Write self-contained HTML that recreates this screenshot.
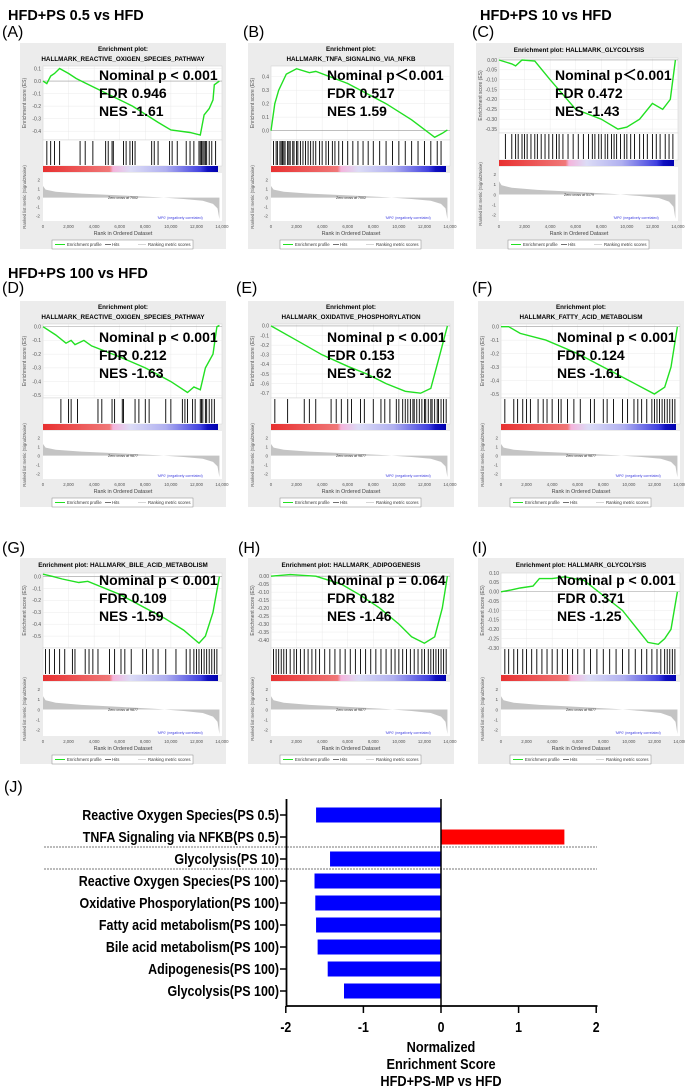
<!DOCTYPE html>
<html><head><meta charset="utf-8"><style>
html,body{margin:0;padding:0;background:#fff;}
svg{display:block;font-family:"Liberation Sans",Arial,sans-serif;}
</style></head><body>
<svg id="fig" width="685" height="1087" viewBox="0 0 685 1087" xmlns="http://www.w3.org/2000/svg">
<text x="8" y="20" font-size="14.5" font-weight="bold">HFD+PS 0.5 vs HFD</text>
<text x="480" y="20" font-size="14.5" font-weight="bold">HFD+PS 10 vs HFD</text>
<text x="8" y="278" font-size="14.5" font-weight="bold">HFD+PS 100 vs HFD</text>
<g id="panels"></g>
<g id="bars"></g>
</svg>
<script>
// ===== GSEA panel data =====
const panelLetters = ["A","B","C","D","E","F","G","H","I"];
const panelTitles = [
 ["Enrichment plot:","HALLMARK_REACTIVE_OXIGEN_SPECIES_PATHWAY"],
 ["Enrichment plot:","HALLMARK_TNFA_SIGNALING_VIA_NFKB"],
 ["Enrichment plot: HALLMARK_GLYCOLYSIS"],
 ["Enrichment plot:","HALLMARK_REACTIVE_OXIGEN_SPECIES_PATHWAY"],
 ["Enrichment plot:","HALLMARK_OXIDATIVE_PHOSPHORYLATION"],
 ["Enrichment plot:","HALLMARK_FATTY_ACID_METABOLISM"],
 ["Enrichment plot: HALLMARK_BILE_ACID_METABOLISM"],
 ["Enrichment plot: HALLMARK_ADIPOGENESIS"],
 ["Enrichment plot: HALLMARK_GLYCOLYSIS"]
];
const statP = ["Nominal p < 0.001","Nominal p\uFF1C0.001","Nominal p\uFF1C0.001","Nominal p < 0.001","Nominal p < 0.001","Nominal p < 0.001","Nominal p < 0.001","Nominal p = 0.064","Nominal p < 0.001"];
const statFDR = ["FDR 0.946","FDR 0.517","FDR 0.472","FDR 0.212","FDR 0.153","FDR 0.124","FDR 0.109","FDR 0.182","FDR 0.371"];
const statNES = ["NES -1.61","NES 1.59","NES -1.43","NES -1.63","NES -1.62","NES -1.61","NES -1.59","NES -1.46","NES -1.25"];
const posLabels = ["'PS0.5' (positively correlated)","'PS0.5' (positively correlated)","'PS10' (positively correlated)","'PS100' (positively correlated)","'PS100' (positively correlated)","'PS100' (positively correlated)","'PS100' (positively correlated)","'PS100' (positively correlated)","'PS100' (positively correlated)"];
const zeroCross = ["Zero cross at 7002","Zero cross at 7002","Zero cross at 5179","Zero cross at 9877","Zero cross at 9877","Zero cross at 9877","Zero cross at 9877","Zero cross at 9877","Zero cross at 9877"];
const esRanges = [[0.12,-0.47],[0.48,-0.07],[0.01,-0.37],[0.02,-0.52],[0.02,-0.75],[0.02,-0.53],[0.03,-0.6],[0.02,-0.45],[0.1,-0.3]];
const esTicks = [
 [0.1,0,-0.1,-0.2,-0.3,-0.4],[0.4,0.3,0.2,0.1,0],[0,-0.05,-0.1,-0.15,-0.2,-0.25,-0.3,-0.35],
 [0,-0.1,-0.2,-0.3,-0.4,-0.5],[0,-0.1,-0.2,-0.3,-0.4,-0.5,-0.6,-0.7],[0,-0.1,-0.2,-0.3,-0.4,-0.5],
 [0,-0.1,-0.2,-0.3,-0.4,-0.5],[0,-0.05,-0.1,-0.15,-0.2,-0.25,-0.3,-0.35,-0.4],[0.1,0.05,0,-0.05,-0.1,-0.15,-0.2,-0.25,-0.3]];
const esRanks = [
 [0,300,600,900,1300,2000,2600,3000,5000,7000,9000,10000,11500,12300,12600,13000,13300,13400,13800],
 [0,300,600,1200,2000,3000,3500,6000,9000,11000,12800,13400,13800],
 [0,1000,1300,1800,2800,4000,6000,8000,9300,10000,11000,12000,12800,13400,13800],
 [0,1000,1800,2200,2500,3200,3800,6000,8000,10000,11300,11800,12300,12700,13300,13600,13800],
 [0,2000,4000,6000,7500,9000,10500,11700,12500,13200,13800],
 [0,600,1500,3500,6000,9000,11000,12000,12800,13300,13800],
 [0,800,1500,2800,3500,6000,9500,11000,12200,12700,13300,13800],
 [0,1500,3500,5500,7000,8500,10000,11000,12000,12800,13400,13800],
 [0,800,1500,2500,3000,4000,5000,6500,8000,9500,11500,12300,12800,13300,13800]];
const esValues = [
 [0,-0.02,0.04,0.06,0.1,0.06,0.02,0,-0.1,-0.2,-0.33,-0.39,-0.41,-0.43,-0.27,-0.22,-0.15,-0.03,0],
 [0,0.2,0.3,0.42,0.46,0.43,0.44,0.35,0.2,0.08,-0.05,-0.02,0.005],
 [0,-0.02,-0.03,0,-0.005,-0.1,-0.25,-0.3,-0.35,-0.34,-0.3,-0.22,-0.25,-0.2,0],
 [0,-0.06,-0.12,-0.1,-0.13,-0.1,-0.14,-0.22,-0.3,-0.4,-0.48,-0.44,-0.46,-0.3,-0.2,0,0.01],
 [0,-0.15,-0.3,-0.42,-0.5,-0.6,-0.68,-0.7,-0.65,-0.3,0],
 [0,0,-0.05,-0.1,-0.2,-0.35,-0.45,-0.5,-0.45,-0.3,0],
 [0.02,0,-0.02,-0.05,-0.04,-0.15,-0.35,-0.45,-0.56,-0.5,-0.3,0],
 [0,0.01,0,-0.05,-0.12,-0.2,-0.3,-0.38,-0.42,-0.38,-0.2,0],
 [0,0.01,0.02,0.03,0.07,0.07,0.08,0.06,-0.02,-0.1,-0.27,-0.28,-0.25,-0.2,0]];
const hitRanks = [
 [300,600,900,1300,2900,3300,3900,4900,5100,5400,5500,6300,6500,6800,7000,7200,8500,8700,9000,9900,10100,10500,11200,11500,11800,12200,12300,12400,12500,12600,12700,12800,13000,13200,13500],
 [200,400,500,700,800,900,1000,1100,1300,1400,1500,1700,1800,2000,2100,2300,2500,2700,2900,3100,3300,3500,3800,4000,4300,4500,4800,5000,5300,5600,6000,6400,6800,7200,7600,8000,8500,9000,9500,10000,10500,11000,11500,12000,12500,13000,13300],
 [500,1000,1300,1500,1800,2000,2200,2500,2800,3000,3300,3600,3900,4200,4500,4700,5000,5400,5800,6200,6600,7000,7300,7500,7800,8000,8300,8500,8800,9000,9200,9500,9800,10000,10300,10600,11000,11300,11600,12000,12300,12600,13000,13300,13600],
 [1400,2000,2200,2700,4300,4600,5400,5600,6200,6300,7200,7500,8000,8300,9600,10000,10900,11100,11300,11700,11900,12300,12400,12500,12700,12800,13000,13200,13400],
 [300,1300,2600,3000,3500,4700,5100,5500,6000,6300,7000,7300,8000,8600,8900,9300,9800,10000,10300,10500,10700,10900,11100,11200,11400,11600,11800,12000,12100,12300,12500,12600,12800,13000,13100,13300,13500,13700],
 [300,1000,1300,1700,2000,2300,2900,3300,3600,4000,4500,4700,5200,5700,6200,7000,7300,8000,8300,8800,9500,9900,10400,10700,11000,11400,11800,12000,12200,12400,12600,12800,13000,13200,13400,13600],
 [200,500,900,1300,1700,2300,2500,3300,3600,3900,4300,5200,5600,6100,6400,6900,7800,8100,8600,9000,9600,10400,11200,11500,11800,12000,12200,12400,12600,12800,13000,13200,13400,13600],
 [200,400,600,800,1000,1200,1500,1800,2000,2300,2600,2900,3200,3500,3800,4200,4600,5000,5400,5800,6200,6600,7000,7400,7800,8200,8600,9000,9400,9700,10000,10300,10600,10900,11200,11500,11800,12000,12300,12500,12700,12900,13100,13300,13500,13700],
 [300,600,1000,1300,1700,2000,2400,2800,3200,3600,4000,4400,4800,5200,5600,6000,6500,7000,7500,8000,8500,9000,9500,10000,10500,11000,11400,11800,12200,12500,12800,13000,13200,13400,13600]];
const rankTicks = [0,2000,4000,6000,8000,10000,12000,14000];
const metricTicks = [2,1,0,-1,-2];
const metricRanks = [0,200,1000,3000,6000,9000,11000,12500,13300,13650,13800];
const metricVals = [1.3,0.9,0.65,0.45,0.25,0.05,-0.15,-0.35,-0.7,-1.2,-2.4];

const NS="http://www.w3.org/2000/svg";
function mk(tag,attrs,parent,txt){const e=document.createElementNS(NS,tag);for(const k in attrs)e.setAttribute(k,attrs[k]);if(txt!==undefined)e.textContent=txt;parent.appendChild(e);return e;}

const origins = [[20,43],[248,43],[476,43],[20,301],[248,301],[478,301],[20,558],[248,558],[478,558]];
const letterPos = [[2,37],[243,37],[472,37],[2,293],[236,293],[472,293],[2,553],[238,553],[472,553]];
const pg = document.getElementById('panels');

for(let i=0;i<9;i++){
 const [ox,oy]=origins[i];
 const g=mk('g',{transform:`translate(${ox},${oy})`},pg);
 
 
 const lt=mk('text',{x:letterPos[i][0]-ox,y:letterPos[i][1]-oy,'font-size':16},g,'('+panelLetters[i]+')');
 
 
 const bg=mk('rect',{x:0,y:0,width:206,height:206,fill:'#ececec'},g);
 
 
 const two=panelTitles[i].length===2;
 panelTitles[i].forEach((t,j)=>{
  const te=mk('text',{x:103,y:two?(8+j*10):9,'font-size':6.3,'font-weight':'bold','text-anchor':'middle'},g,t);
  
  
 });
 const X0=23,X1=202;
 const esTop=two?23:15, esBot=two?97:90, hitBot=two?123:117, barBot=hitBot+6, mTop=barBot+1, mBot=178;
 const xs=r=>X0+(r/14000)*(X1-X0);
 const [ymax,ymin]=esRanges[i];
 const ys=v=>esTop+(ymax-v)/(ymax-ymin)*(esBot-esTop);
 mk('rect',{x:X0,y:esTop,width:X1-X0,height:esBot-esTop,fill:'#fff',stroke:'#ccc','stroke-width':0.5},g);
 rankTicks.forEach(r=>mk('line',{x1:xs(r),x2:xs(r),y1:esTop,y2:esBot,stroke:'#e6e6e6','stroke-width':0.4},g));
 const dec = esTicks[i].some(v=>Math.abs(Math.round(v*100))%10!==0)?2:1;
 esTicks[i].forEach(t=>{
  mk('line',{x1:X0,x2:X1,y1:ys(t),y2:ys(t),stroke:t===0?'#999':'#e6e6e6','stroke-width':t===0?0.6:0.4},g);
  mk('text',{x:X0-2,y:ys(t)+1.8,'font-size':5,'text-anchor':'end',fill:'#555'},g,t.toFixed(dec));
 });
 mk('text',{x:6,y:(esTop+esBot)/2,'font-size':5,'text-anchor':'middle',fill:'#555',transform:`rotate(-90 6 ${(esTop+esBot)/2})`},g,'Enrichment score (ES)');
 const pts=esRanks[i].map((r,k)=>`${xs(r).toFixed(1)},${ys(esValues[i][k]).toFixed(1)}`).join(' ');
 const curve=mk('polyline',{points:pts,fill:'none',stroke:'#22e022','stroke-width':1.4},g);
 
 
 mk('rect',{x:X0,y:esBot,width:X1-X0,height:hitBot-esBot,fill:'#fff',stroke:'#ccc','stroke-width':0.4},g);
 hitRanks[i].forEach(r=>{
  const h=mk('line',{x1:xs(r),x2:xs(r),y1:esBot+1,y2:hitBot-1,stroke:'#000','stroke-width':0.9},g);
  
  
 });
 const gid='cb'+i;
 const lg=mk('linearGradient',{id:gid,x1:0,x2:1,y1:0,y2:0},mk('defs',{},g));
 [['0','#e83030'],['0.38','#f07878'],['0.4','#f4b4dc'],['0.5','#dcdcf6'],['0.7','#b0b0f0'],['0.9','#4040e0'],['0.94','#1010c0'],['1','#0000b0']].forEach(s=>mk('stop',{offset:s[0],'stop-color':s[1]},lg));
 mk('rect',{x:X0,y:hitBot,width:X1-X0-4,height:6,fill:`url(#${gid})`},g);
 mk('text',{x:X0,y:mTop+4,'font-size':3.6,fill:'#e03030'},g,posLabels[i]);
 mk('rect',{x:X0,y:mTop,width:X1-X0,height:mBot-mTop,fill:'#fff'},g);
 const ms=v=>mTop+4+(2.3-v)/(2.3+2.6)*(mBot-mTop-4);
 let ap=`M${xs(0)},${ms(0)} `+metricRanks.map((r,k)=>`L${xs(r).toFixed(1)},${ms(metricVals[k]).toFixed(1)}`).join(' ')+` L${xs(13800)},${ms(0)} Z`;
 const area=mk('path',{d:ap,fill:'#c4c4c4'},g);
 
 
 metricTicks.forEach(t=>mk('text',{x:X0-3,y:ms(t)+1.8,'font-size':4.6,'text-anchor':'end',fill:'#555'},g,t));
 mk('text',{x:103,y:ms(0)+1.5,'font-size':3.6,'text-anchor':'middle',fill:'#333'},g,zeroCross[i]);
 mk('text',{x:160,y:mBot-2,'font-size':3.6,'text-anchor':'middle',fill:'#4040e0'},g,"'MP0' (negatively correlated)");
 mk('text',{x:6,y:(mTop+mBot)/2,'font-size':4.3,'text-anchor':'middle',fill:'#555',transform:`rotate(-90 6 ${(mTop+mBot)/2})`},g,'Ranked list metric (Signal2Noise)');
 rankTicks.forEach(r=>mk('text',{x:xs(r),y:185,'font-size':4.3,'text-anchor':'middle',fill:'#555'},g,r.toLocaleString('en-US')));
 mk('text',{x:103,y:192,'font-size':5.3,'text-anchor':'middle',fill:'#444'},g,'Rank in Ordered Dataset');
 const leg=mk('g',{},g);
 
 
 mk('rect',{x:32,y:197,width:141,height:9,fill:'#fff',stroke:'#888','stroke-width':0.5},leg);
 mk('line',{x1:35,x2:45,y1:201.5,y2:201.5,stroke:'#22e022','stroke-width':1},leg);
 mk('text',{x:47,y:203,'font-size':4.3,fill:'#333'},leg,'Enrichment profile');
 mk('line',{x1:85,x2:91,y1:201.5,y2:201.5,stroke:'#111','stroke-width':0.6},leg);
 mk('text',{x:92,y:203,'font-size':4.3,fill:'#333'},leg,'Hits');
 mk('line',{x1:118,x2:126,y1:201.5,y2:201.5,stroke:'#bbb','stroke-width':0.6},leg);
 mk('text',{x:128,y:203,'font-size':4.3,fill:'#333'},leg,'Ranking metric scores');
 const sy = i<3 ? [37,55,73] : (i<6 ? [41,59,77] : [27,45,63]);
 [statP[i],statFDR[i],statNES[i]].forEach((s,k)=>{
  const st=mk('text',{x:79,y:sy[k],'font-size':14,'font-weight':'bold',fill:'#000'},g,s);
  
  
 });
}

// ===== Bar chart (J) =====
const barCategories = ["Reactive Oxygen Species(PS 0.5)","TNFA Signaling via NFKB(PS 0.5)","Glycolysis(PS 10)","Reactive Oxygen Species(PS 100)","Oxidative Phosporylation(PS 100)","Fatty acid metabolism(PS 100)","Bile acid metabolism(PS 100)","Adipogenesis(PS 100)","Glycolysis(PS 100)"];
const barValues = [-1.61,1.59,-1.43,-1.63,-1.62,-1.61,-1.59,-1.46,-1.25];
const xTickValues = [-2,-1,0,1,2];
const bg2=document.getElementById('bars');
const bx=v=>441+v*77.6;
const by=k=>815+k*22;
const jl=mk('text',{x:4,y:792,'font-size':16},bg2,'(J)');


barCategories.forEach((c,k)=>{
 const v=barValues[k];
 const r=mk('rect',{x:Math.min(bx(0),bx(v)),y:by(k)-7.5,width:Math.abs(bx(v)-bx(0)),height:15,fill:v<0?'#0000ff':'#ff0000'},bg2);
 
 
 const t=mk('text',{x:0,y:0,'font-size':14.5,'font-weight':'bold','text-anchor':'end',transform:`translate(279,${by(k)+5}) scale(0.86,1)`},bg2,c);
 
 
 mk('line',{x1:280,x2:287,y1:by(k),y2:by(k),stroke:'#000','stroke-width':1.5},bg2);
});
[847,869].forEach(y=>{
 const d=mk('line',{x1:44,x2:597,y1:y,y2:y,stroke:'#777','stroke-width':1,'stroke-dasharray':'2,1'},bg2);
 
 
});
const ya=mk('line',{x1:286.5,x2:286.5,y1:799,y2:1007,stroke:'#000','stroke-width':1.8},bg2);


const zl=mk('line',{x1:bx(0),x2:bx(0),y1:799,y2:1007,stroke:'#000','stroke-width':1.5},bg2);


const xa=mk('line',{x1:286,x2:597.5,y1:1006,y2:1006,stroke:'#000','stroke-width':1.8},bg2);


xTickValues.forEach(v=>{
 mk('line',{x1:bx(v),x2:bx(v),y1:1006,y2:1013,stroke:'#000','stroke-width':1.5},bg2);
 const tl=mk('text',{x:0,y:0,'font-size':14.5,'font-weight':'bold','text-anchor':'middle',transform:`translate(${bx(v)},1032) scale(0.85,1)`},bg2,v);
 
 
});
["Normalized","Enrichment Score","HFD+PS-MP vs HFD"].forEach((s,k)=>{
 const t=mk('text',{x:0,y:0,'font-size':14.5,'font-weight':'bold','text-anchor':'middle',transform:`translate(441,${1052+k*17}) scale(0.88,1)`},bg2,s);
 
 
});
</script>
</body></html>
